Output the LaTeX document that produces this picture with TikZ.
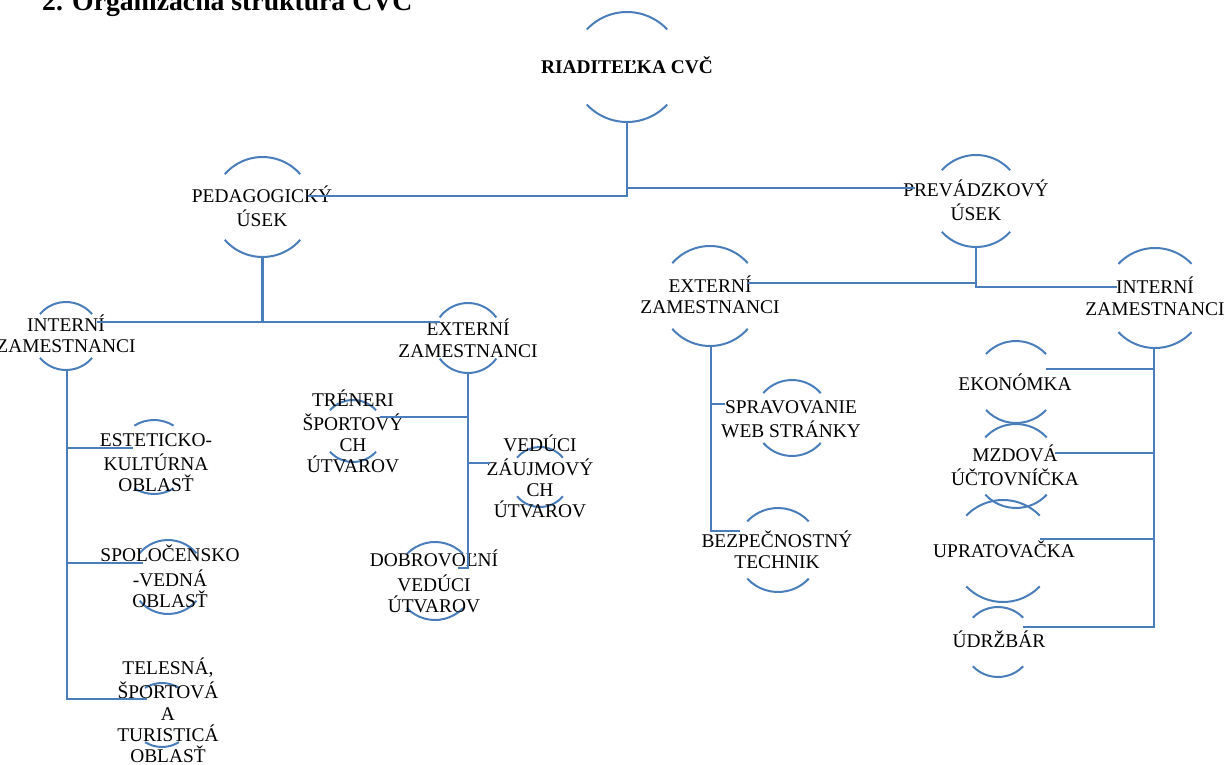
\documentclass[tikz,border=0pt]{standalone}
\usepackage{fontspec}
\setmainfont{Liberation Serif}
\definecolor{lineblue}{HTML}{4A7EBB}
\tikzset{
  ringnode/.style={circle, draw=none, inner sep=0pt},
  arcline/.style={draw=lineblue, line width=2pt},
  conn/.style={draw=lineblue, line width=2.3pt},
  lbl/.style={align=center, inner sep=0pt, text=black, font=\fontsize{19.4}{21.3}\selectfont},
}
\newcommand\orgring[5]{%
  \node[ringnode, minimum size=#4*2pt] (#1) at (#2,#3) {};
  \draw[arcline] (#1.center) ++(#5:#4pt) arc[start angle=#5, delta angle=180-2*#5, radius=#4pt];
  \draw[arcline] (#1.center) ++(180+#5:#4pt) arc[start angle=180+#5, delta angle=180-2*#5, radius=#4pt];
}
\begin{document}
\begin{tikzpicture}[x=1pt,y=1pt]
\useasboundingbox (0,0) rectangle (1227,-765);
% title
\node[anchor=base west, inner sep=0pt, font=\fontsize{27.7}{30}\selectfont\bfseries] (title) at (42,-10.5) {2. Organizačná štruktúra CVČ};
% rings
\orgring{riad}{627}{-67}{55}{43}
\orgring{ped}{262.5}{-207}{50}{41}
\orgring{prev}{976}{-201}{46}{42}
\orgring{pint}{66}{-336}{34}{40}
\orgring{pext}{468}{-338}{35}{36}
\orgring{tren}{353}{-431}{31}{42}
\orgring{ved}{540}{-477}{30}{40}
\orgring{dob}{435}{-581}{39}{44}
\orgring{est}{154}{-457}{37}{58}
\orgring{spol}{168}{-577}{37}{40}
\orgring{tel}{162}{-715}{32}{58}
\orgring{eext}{710}{-296}{50}{41}
\orgring{spr}{792}{-418}{38}{41}
\orgring{bez}{778}{-550}{42}{43}
\orgring{eint}{1155}{-298}{50}{43}
\orgring{eko}{1016}{-382}{41}{43}
\orgring{mzd}{1016}{-466}{42}{43}
\orgring{upr}{1003}{-551}{51}{44}
\orgring{udr}{998}{-642}{35}{44}
% texts
\node[lbl] (riadT) at (627,-68.5) {\strut\textbf{RIADITEĽKA CVČ}\strut};
\node[lbl] (pedT) at (262,-209.5) {\strut PEDAGOGICKÝ\\ÚSEK\strut};
\node[lbl] (prevT) at (976,-203) {\strut PREVÁDZKOVÝ\\ÚSEK\strut};
\node[lbl] (pintT) at (66,-337) {\strut INTERNÍ\\ZAMESTNANCI\strut};
\node[lbl] (pextT) at (468,-341.5) {\strut EXTERNÍ\\ZAMESTNANCI\strut};
\node[lbl] (trenT) at (353,-434.5) {\strut TRÉNERI\\ŠPORTOVÝ\\CH\\ÚTVAROV\strut};
\node[lbl] (vedT) at (540,-479.5) {\strut VEDÚCI\\ZÁUJMOVÝ\\CH\\ÚTVAROV\strut};
\node[lbl] (dobT) at (434,-584.5) {\strut DOBROVOĽNÍ\\VEDÚCI\\ÚTVAROV\strut};
\node[lbl] (estT) at (156,-465) {\strut ESTETICKO-\\KULTÚRNA\\OBLASŤ\strut};
\node[lbl] (spolT) at (170,-579.5) {\strut SPOLOČENSKO\\-VEDNÁ\\OBLASŤ\strut};
\node[lbl] (telT) at (168,-713.5) {\strut TELESNÁ,\\ŠPORTOVÁ\\A\\TURISTICÁ\\OBLASŤ\strut};
\node[lbl] (eextT) at (710,-298) {\strut EXTERNÍ\\ZAMESTNANCI\strut};
\node[lbl] (sprT) at (791,-421) {\strut SPRAVOVANIE\\WEB STRÁNKY\strut};
\node[lbl] (bezT) at (777,-553) {\strut BEZPEČNOSTNÝ\\TECHNIK\strut};
\node[lbl] (eintT) at (1155,-299.5) {\strut INTERNÍ\\ZAMESTNANCI\strut};
\node[lbl] (ekoT) at (1015,-385) {\strut EKONÓMKA\strut};
\node[lbl] (mzdT) at (1015,-468) {\strut MZDOVÁ\\ÚČTOVNÍČKA\strut};
\node[lbl] (uprT) at (1004,-552) {\strut UPRATOVAČKA\strut};
\node[lbl] (udrT) at (999,-642) {\strut ÚDRŽBÁR\strut};
% junction coordinates
\coordinate (a1) at (627,-196);
\coordinate (a2) at (308,-196);
\coordinate (a3) at (627,-188);
\coordinate (a4) at (915,-188);
\coordinate (b1) at (262.5,-322);
\coordinate (b2) at (97,-322);
\coordinate (b3) at (440,-322);
\coordinate (c0) at (67,-370);
\coordinate (c1) at (67,-448);
\coordinate (c2) at (133,-448);
\coordinate (c3) at (67,-563);
\coordinate (c4) at (143,-563);
\coordinate (c5) at (67,-699);
\coordinate (c6) at (147,-699);
\coordinate (d1) at (468,-568);
\coordinate (d2) at (458,-568);
\coordinate (d3) at (468,-417);
\coordinate (d4) at (380,-417);
\coordinate (d5) at (468,-463);
\coordinate (d6) at (490,-463);
\coordinate (e1) at (976,-287);
\coordinate (e2) at (1117,-287);
\coordinate (e3) at (976,-283);
\coordinate (e4) at (748,-283);
\coordinate (f0) at (711,-346);
\coordinate (f1) at (711,-531);
\coordinate (f2) at (740,-531);
\coordinate (f3) at (711,-404);
\coordinate (f4) at (725,-404);
\coordinate (g0) at (1154,-349);
\coordinate (g1) at (1154,-627);
\coordinate (g2) at (1023,-627);
\coordinate (g3) at (1154,-369);
\coordinate (g4) at (1046,-369);
\coordinate (g5) at (1154,-453);
\coordinate (g6) at (1055,-453);
\coordinate (g7) at (1154,-539);
\coordinate (g8) at (1040,-539);
% connectors
\draw[conn] (riad.south) -- (a1) -- (a2);
\draw[conn] (a3) -- (a4);
\draw[conn] (ped.south) -- (b1);
\draw[conn] (b2) -- (b3);
\draw[conn] (c0) -- (c5) -- (c6);
\draw[conn] (c1) -- (c2);
\draw[conn] (c3) -- (c4);
\draw[conn] (pext.south) -- (d1) -- (d2);
\draw[conn] (d3) -- (d4);
\draw[conn] (d5) -- (d6);
\draw[conn] (prev.south) -- (e1) -- (e2);
\draw[conn] (e3) -- (e4);
\draw[conn] (f0) -- (f1) -- (f2);
\draw[conn] (f3) -- (f4);
\draw[conn] (g0) -- (g1) -- (g2);
\draw[conn] (g3) -- (g4);
\draw[conn] (g5) -- (g6);
\draw[conn] (g7) -- (g8);
\end{tikzpicture}
\end{document}
